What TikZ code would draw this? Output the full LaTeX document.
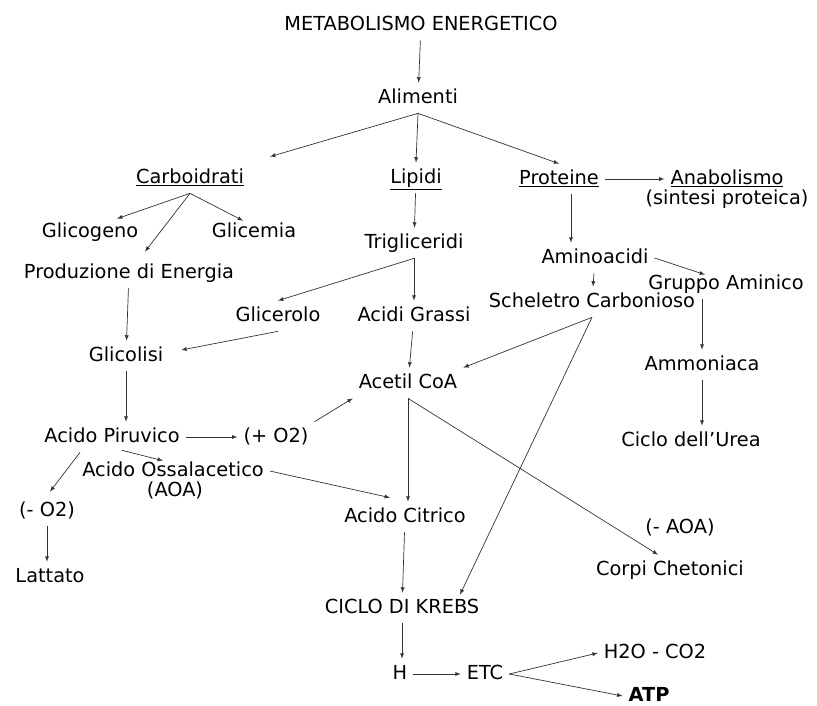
\documentclass[tikz,border=0pt]{standalone}
\usepackage{fontspec}
\setmainfont{DejaVu Sans}
\usetikzlibrary{calc}

\begin{document}
\begin{tikzpicture}[x=0.03cm, y=-0.03cm, >=latex,
  txt/.style={font=\fontsize{16.5}{18}\selectfont, text height=12.5pt, text depth=3.3pt, inner sep=5pt},
  freccia/.style={->, black!80, line width=0.6pt}]
  \useasboundingbox (0,0) rectangle (817,706);
  % nodi
  \node[txt] (met) at (421,25) {METABOLISMO ENERGETICO};
  \node[txt] (alim) at (418,98) {Alimenti};
  \node[txt] (carb) at (190,178) {\underline{Carboidrati}};
  \node[txt] (lip) at (416,178) {\underline{Lipidi}};
  \node[txt] (prot) at (559,179) {\underline{Proteine}};
  \node[txt] (anab) at (727,179) {\underline{Anabolismo}};
  \node[txt] (sint) at (727,199) {(sintesi proteica)};
  \node[txt] (glicog) at (90,232) {Glicogeno};
  \node[txt] (glicem) at (254,232) {Glicemia};
  \node[txt] (trig) at (414,243) {Trigliceridi};
  \node[txt] (prod) at (129,273) {Produzione di Energia};
  \node[txt] (amino) at (595,258) {Aminoacidi};
  \node[txt] (gruppo) at (726,284) {Gruppo Aminico};
  \node[txt] (schel) at (592,302) {Scheletro Carbonioso};
  \node[txt] (glicer) at (278,316) {Glicerolo};
  \node[txt] (acgr) at (414,316) {Acidi Grassi};
  \node[txt] (glicol) at (126,356) {Glicolisi};
  \node[txt] (acetil) at (408,383) {Acetil CoA};
  \node[txt] (ammon) at (702,365) {Ammoniaca};
  \node[txt] (piruv) at (112,437) {Acido Piruvico};
  \node[txt] (plusO) at (276,437) {(+ O2)};
  \node[txt] (urea) at (691,441) {Ciclo dell'Urea};
  \node[txt] (ossal) at (173,471) {Acido Ossalacetico};
  \node[txt] (aoa) at (175,491) {(AOA)};
  \node[txt] (minusO) at (47,511) {(- O2)};
  \node[txt] (citr) at (405,517) {Acido Citrico};
  \node[txt] (menoAOA) at (680,528) {(- AOA)};
  \node[txt] (latt) at (50,577) {Lattato};
  \node[txt] (corpi) at (670,570) {Corpi Chetonici};
  \node[txt] (krebs) at (402,608) {CICLO DI KREBS};
  \node[txt] (h) at (400,674) {H};
  \node[txt] (etc) at (485,674) {ETC};
  \node[txt] (h2o) at (655,653) {H2O - CO2};
  \node[txt] (atp) at (649,696) {\textbf{ATP}};
  % alimenti
  \draw[freccia] (met) -- (alim);
  \draw[freccia] (alim.south) -- ($(carb.north east)+(20,-6)$);
  \draw[freccia] (alim.south) -- (lip.north);
  \draw[freccia] (alim.south) -- (prot.north);
  \draw[freccia] (prot) -- (anab);
  % carboidrati
  \draw[freccia] (carb.south) -- ($(glicog.north)+(27,2)$);
  \draw[freccia] (carb.south) -- ($(glicem.north)+(-11,4)$);
  \draw[freccia] (carb.south) -- ($(prod.north)+(16,-6)$);
  \draw[freccia] (prod) -- (glicol);
  \draw[freccia] (glicer.south) -- ($(glicol.east)+(12,-6)$);
  \draw[freccia] (glicol.south) -- (glicol.south |- piruv.north);
  \draw[freccia] (piruv) -- (plusO);
  \draw[freccia] (plusO.north east) -- (acetil.south west);
  \draw[freccia] ($(piruv.south)+(-32,0)$) -- ($(minusO.north)+(3,-4)$);
  \draw[freccia] ($(piruv.south)+(10,-2)$) -- ($(ossal.north)+(-10,5)$);
  \draw[freccia] (ossal.east) -- ($(citr.north)+(-15,-4)$);
  \draw[freccia] (minusO.south) -- (minusO.south |- latt.north);
  % lipidi
  \draw[freccia] (lip) -- (trig);
  \draw[freccia] (trig.south) -- (glicer.north);
  \draw[freccia] (trig.south) -- (acgr.north);
  \draw[freccia] (acgr) -- (acetil);
  % proteine
  \draw[freccia] ($(prot.south)+(12,0)$) -- ($(amino.north)+(-24,0)$);
  \draw[freccia] (amino.east) -- ($(gruppo.north)+(-21,6)$);
  \draw[freccia] (amino) -- (schel);
  \draw[freccia] (gruppo.south -| ammon.north) -- (ammon.north);
  \draw[freccia] (ammon.south) -- (ammon.south |- urea.north);
  \draw[freccia] (schel.south) -- (acetil.north east);
  \draw[freccia] (schel.south) -- ($(krebs.north)+(58,2)$);
  % acetil coa e krebs
  \draw[freccia] (acetil.south) -- (acetil.south |- citr.north);
  \draw[freccia] (acetil.south) -- ($(corpi.north)+(-12,0)$);
  \draw[freccia] (citr) -- (krebs);
  \draw[freccia] (krebs.south) -- (krebs.south |- h.north);
  \draw[freccia] (h) -- (etc);
  \draw[freccia] (etc.east) -- (h2o.west);
  \draw[freccia] (etc.east) -- (atp.west);
\end{tikzpicture}
\end{document}
